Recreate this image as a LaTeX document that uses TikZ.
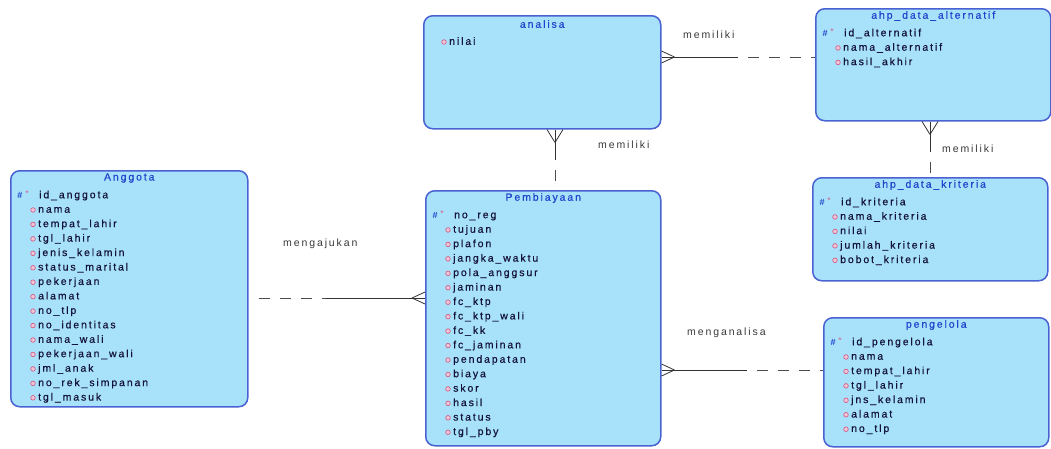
\documentclass[tikz,border=0pt]{standalone}
\usepackage{fontspec}
\setmainfont{Liberation Sans}
\newfontfamily\erfont[LetterSpace=18,FakeBold=0.6]{Liberation Sans}
\newfontfamily\relfont[LetterSpace=18]{Liberation Sans}
\usetikzlibrary{calc}

\definecolor{erfill}{HTML}{A8E2FA}
\definecolor{erborder}{HTML}{4A62D2}
\definecolor{ertitle}{HTML}{2244CC}
\definecolor{ertext}{HTML}{14143A}
\definecolor{erpink}{HTML}{D0608C}
\definecolor{erlabel}{HTML}{383838}

\newcommand\erentity[8]{%
  \node[entitybox, minimum width=#4pt, minimum height=#5pt] (#1) at (#2,#3) {};
  \node[titletext] (#1-title) at ([yshift=-8pt]#1.north) {#6};
  \node[keyhash] (#1-hash) at ([xshift=10pt,yshift=-25.5pt]#1.north west) {\#};
  \node[keystar] (#1-star) at ([xshift=17pt,yshift=-24pt]#1.north west) {*};
  \node[attrtext] (#1-key) at ([xshift=29pt,yshift=-25.5pt]#1.north west) {#7};
  \foreach \a [count=\i] in {#8} {
    \draw[marker] ([xshift=23pt,yshift={-(25.5+14.45*\i)*1pt}]#1.north west) circle (2.3pt);
    \node[attrtext] (#1-a\i) at ([xshift=28pt,yshift={-(25.5+14.45*\i)*1pt}]#1.north west) {\a};
  }
}

\begin{document}
\begin{tikzpicture}[x=1pt,y=-1pt,
  entitybox/.style={draw=erborder, fill=erfill, line width=1.5pt, rounded corners=9pt, rectangle, inner sep=0pt, anchor=north west},
  titletext/.style={font={\erfont\fontsize{10.5}{12}\selectfont}, text=ertitle, inner sep=0pt},
  attrtext/.style={font={\erfont\fontsize{10.5}{12}\selectfont}, text=ertext, inner sep=0pt, anchor=west, text height=7.5pt, text depth=2pt},
  keyhash/.style={font={\bfseries\fontsize{9}{10}\selectfont}, text=ertitle, inner sep=0pt},
  keystar/.style={font={\fontsize{8.5}{9}\selectfont}, text=erpink, inner sep=0pt},
  reltext/.style={font={\relfont\fontsize{10.5}{12}\selectfont}, text=erlabel, inner sep=0pt, anchor=west},
  relline/.style={line width=0.8pt, draw=black!80},
  reldash/.style={line width=0.8pt, draw=black!70, dash pattern=on 11pt off 10pt, dash phase=11pt},
  marker/.style={draw=erpink, fill=erpink!35, line width=0.7pt},
]
\useasboundingbox (0,0) rectangle (1051,448);

% entities
\erentity{ang}{10}{170}{237}{236}{Anggota}{id\_anggota}{nama, tempat\_lahir, tgl\_lahir, jenis\_kelamin, status\_marital, pekerjaan, alamat, no\_tlp, no\_identitas, nama\_wali, pekerjaan\_wali, jml\_anak, no\_rek\_simpanan, tgl\_masuk}
\erentity{pem}{425}{190}{235}{255}{Pembiayaan}{no\_reg}{tujuan, plafon, jangka\_waktu, pola\_anggsur, jaminan, fc\_ktp, fc\_ktp\_wali, fc\_kk, fc\_jaminan, pendapatan, biaya, skor, hasil, status, tgl\_pby}
\erentity{alt}{815}{8}{235}{112}{ahp\_data\_alternatif}{id\_alternatif}{nama\_alternatif, hasil\_akhir}
\erentity{kri}{812}{177}{235}{103}{ahp\_data\_kriteria}{id\_kriteria}{nama\_kriteria, nilai, jumlah\_kriteria, bobot\_kriteria}
\erentity{pen}{823}{317}{225}{129}{pengelola}{id\_pengelola}{nama, tempat\_lahir, tgl\_lahir, jns\_kelamin, alamat, no\_tlp}

% analisa (no key)
\node[entitybox, minimum width=237pt, minimum height=113pt] (ana) at (423,15) {};
\node[titletext] (ana-title) at ([yshift=-9pt]ana.north) {analisa};
\draw[marker] ([xshift=21pt,yshift=-27pt]ana.north west) circle (2.3pt);
\node[attrtext] (ana-a1) at ([xshift=26pt,yshift=-27pt]ana.north west) {nilai};

% mengajukan: Anggota -- Pembiayaan
\coordinate (c1a) at ([yshift=-128pt]ang.north east);
\coordinate (c1b) at ([yshift=-108pt]pem.north west);
\coordinate (c1m) at ($(c1a)!0.44!(c1b)$);
\draw[reldash] (c1a) -- (c1m);
\draw[relline] (c1m) -- (c1b);
\draw[relline] ([xshift=-13pt]c1b) -- ([yshift=6pt]c1b) ([xshift=-13pt]c1b) -- ([yshift=-6pt]c1b);
\node[reltext] (l1) at (283,244) {mengajukan};

% memiliki: analisa -- ahp_data_alternatif
\coordinate (c2a) at ([yshift=-42pt]ana.north east);
\coordinate (c2b) at ([yshift=-49pt]alt.north west);
\coordinate (c2m) at ($(c2a)!0.5!(c2b)$);
\draw[relline] (c2a) -- (c2m);
\draw[reldash] (c2m) -- (c2b);
\draw[relline] ([xshift=13pt]c2a) -- ([yshift=6pt]c2a) ([xshift=13pt]c2a) -- ([yshift=-6pt]c2a);
\node[reltext] (l2) at (683,35) {memiliki};

% memiliki: analisa -- Pembiayaan
\coordinate (c3a) at ([xshift=132pt]ana.south west);
\coordinate (c3b) at ([xshift=130pt]pem.north west);
\coordinate (c3m) at ($(c3a)!0.5!(c3b)$);
\draw[relline] (c3a) -- (c3m);
\draw[reldash] (c3m) -- (c3b);
\draw[relline] ([yshift=-13pt]c3a) -- ([xshift=8pt]c3a) ([yshift=-13pt]c3a) -- ([xshift=-8pt]c3a);
\node[reltext] (l3) at (598,145) {memiliki};

% memiliki: ahp_data_alternatif -- ahp_data_kriteria
\coordinate (c4a) at ([xshift=115pt]alt.south west);
\coordinate (c4b) at ([xshift=118pt]kri.north west);
\coordinate (c4m) at ($(c4a)!0.55!(c4b)$);
\draw[relline] (c4a) -- (c4m);
\draw[reldash] (c4m) -- (c4b);
\draw[relline] ([yshift=-13pt]c4a) -- ([xshift=8pt]c4a) ([yshift=-13pt]c4a) -- ([xshift=-8pt]c4a);
\node[reltext] (l4) at (942,149) {memiliki};

% menganalisa: Pembiayaan -- pengelola
\coordinate (c5a) at ([yshift=-180pt]pem.north east);
\coordinate (c5b) at ([yshift=-53pt]pen.north west);
\coordinate (c5m) at ($(c5a)!0.53!(c5b)$);
\draw[relline] (c5a) -- (c5m);
\draw[reldash] (c5m) -- (c5b);
\draw[relline] ([xshift=13pt]c5a) -- ([yshift=6pt]c5a) ([xshift=13pt]c5a) -- ([yshift=-6pt]c5a);
\node[reltext] (l5) at (687,333) {menganalisa};
\end{tikzpicture}
\end{document}
